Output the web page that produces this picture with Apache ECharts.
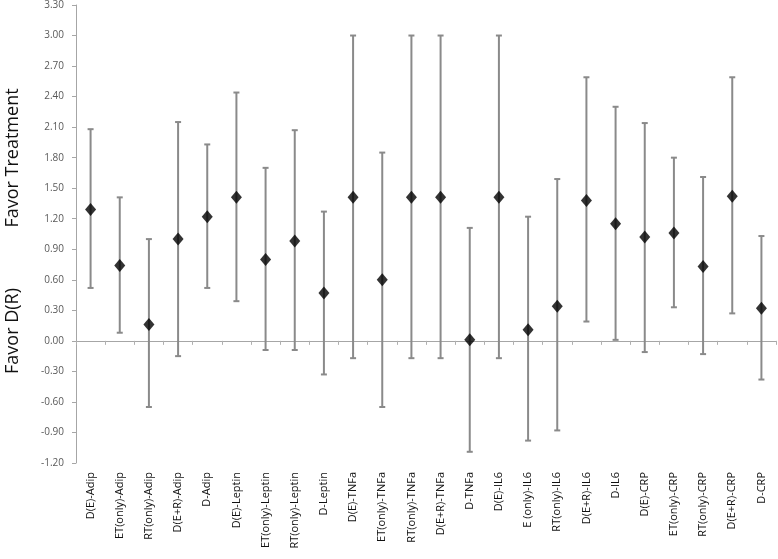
<!DOCTYPE html>
<html><head><meta charset="utf-8">
<script src="https://cdn.jsdelivr.net/npm/echarts@6/dist/echarts.min.js"></script>
<style>html,body{margin:0;padding:0;background:#fff}#c{width:778px;height:559px}</style>
</head><body><div id="c"></div>
<script>
const categories = ['D(E)-Adip','ET(only)-Adip','RT(only)-Adip','D(E+R)-Adip','D-Adip','D(E)-Leptin','ET(only)-Leptin','RT(only)-Leptin','D-Leptin','D(E)-TNFa','ET(only)-TNFa','RT(only)-TNFa','D(E+R)-TNFa','D-TNFa','D(E)-IL6','E (only)-IL6','RT(only)-IL6','D(E+R)-IL6','D-IL6','D(E)-CRP','ET(only)-CRP','RT(only)-CRP','D(E+R)-CRP','D-CRP'];
const estimates = [1.29,0.74,0.16,1.00,1.22,1.41,0.80,0.98,0.47,1.41,0.60,1.41,1.41,0.01,1.41,0.11,0.34,1.38,1.15,1.02,1.06,0.73,1.42,0.32];
const upperCI = [2.08,1.41,1.00,2.15,1.93,2.44,1.70,2.07,1.27,3.00,1.85,3.00,3.00,1.11,3.00,1.22,1.59,2.59,2.30,2.14,1.80,1.61,2.59,1.03];
const lowerCI = [0.52,0.08,-0.65,-0.15,0.52,0.39,-0.09,-0.09,-0.33,-0.17,-0.65,-0.17,-0.17,-1.09,-0.17,-0.98,-0.88,0.19,0.01,-0.11,0.33,-0.13,0.27,-0.38];
const yAxisMin = -1.2, yAxisMax = 3.3, yAxisStep = 0.3;
const yTitleTop = 'Favor Treatment';
const yTitleBottom = 'Favor D(R)';

const chart = echarts.init(document.getElementById('c'), null, {renderer: 'canvas'});
const font = '"Open Sans", "Liberation Sans", sans-serif';
chart.setOption({
  animation: false,
  backgroundColor: '#fff',
  grid: {left: 76, right: 2, top: 5, bottom: 96, containLabel: false},
  xAxis: [{
    type: 'category', data: categories, position: 'bottom', boundaryGap: true,
    axisLine: {show: false, onZero: false}, axisTick: {show: false},
    axisLabel: {rotate: 90, interval: 0, margin: 9, fontSize: 11, color: '#111', fontFamily: font}
  }, {
    type: 'category', data: categories, position: 'bottom', boundaryGap: true,
    axisLine: {show: true, onZero: true, lineStyle: {color: '#a6a6a6', width: 1}},
    axisTick: {show: true, length: 4, interval: 0, lineStyle: {color: '#b0b0b0'}},
    axisLabel: {show: false}
  }],
  yAxis: {
    type: 'value', min: yAxisMin, max: yAxisMax, interval: yAxisStep,
    axisLine: {show: true, onZero: false, lineStyle: {color: '#a6a6a6'}},
    axisTick: {show: true, length: 4, lineStyle: {color: '#a6a6a6'}},
    splitLine: {show: false},
    axisLabel: {margin: 12, fontSize: 10, color: '#595959', fontFamily: font,
      formatter: v => { const r = Math.abs(v) < 1e-9 ? 0 : v; return r.toFixed(2); }}
  },
  graphic: [
    {type: 'text', x: 13, y: 158, rotation: Math.PI / 2,
      style: {text: yTitleTop, fontSize: 18, fontFamily: font, fill: '#111', textAlign: 'center', textVerticalAlign: 'middle'}},
    {type: 'text', x: 13, y: 331, rotation: Math.PI / 2,
      style: {text: yTitleBottom, fontSize: 18, fontFamily: font, fill: '#111', textAlign: 'center', textVerticalAlign: 'middle'}}
  ],
  series: [{
    type: 'custom', xAxisIndex: 0,
    data: categories.map((c, i) => [i, lowerCI[i], upperCI[i]]),
    renderItem: (params, api) => {
      const lo = api.coord([api.value(0), api.value(1)]);
      const hi = api.coord([api.value(0), api.value(2)]);
      const hw = 3;
      const st = {stroke: '#8a8a8a', lineWidth: 2};
      return {type: 'group', children: [
        {type: 'line', shape: {x1: lo[0], y1: lo[1], x2: hi[0], y2: hi[1]}, style: st},
        {type: 'line', shape: {x1: lo[0] - hw, y1: lo[1], x2: lo[0] + hw, y2: lo[1]}, style: st},
        {type: 'line', shape: {x1: hi[0] - hw, y1: hi[1], x2: hi[0] + hw, y2: hi[1]}, style: st}
      ]};
    },
    z: 2
  }, {
    type: 'scatter', xAxisIndex: 0, data: estimates,
    symbol: 'diamond', symbolSize: [11, 13],
    itemStyle: {color: '#000'}, z: 3
  }]
});
</script></body></html>
